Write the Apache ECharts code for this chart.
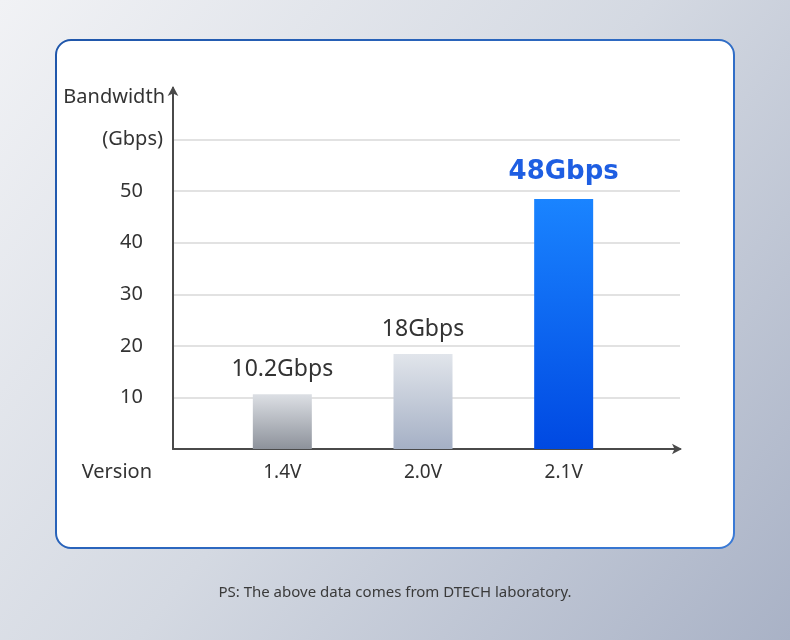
<!DOCTYPE html>
<html>
<head>
<meta charset="utf-8">
<script src="https://cdn.jsdelivr.net/npm/echarts@6/dist/echarts.min.js"></script>
<style>html,body{margin:0;padding:0;}#c{width:790px;height:640px;}</style>
</head>
<body>
<div id="c"></div>
<script>
// ---- data ----
const categories = ['1.4V', '2.0V', '2.1V'];
const bandwidthValues = [10.6, 18.4, 48.5];
const valueLabels = ['10.2Gbps', '18Gbps', '48Gbps'];
const yTicks = [0, 10, 20, 30, 40, 50, 60, 70];
const yUnitLabel = '(Gbps)';
const yAxisTitle = 'Bandwidth';
const xAxisTitle = 'Version';
const footnote = 'PS: The above data comes from DTECH laboratory.';

const G = echarts.graphic.LinearGradient;
const barFills = [
  new G(0, 0, 0, 1, [{offset: 0, color: '#dcdfe4'}, {offset: 1, color: '#8d929b'}]),
  new G(0, 0, 0, 1, [{offset: 0, color: '#e1e5eb'}, {offset: 1, color: '#a5b0c5'}]),
  new G(0, 0, 0, 1, [{offset: 0, color: '#1a84ff'}, {offset: 1, color: '#0049e2'}])
];
const labelStyles = [
  {color: '#333333', fontSize: 23, fontFamily: 'Noto Sans', distance: 13},
  {color: '#333333', fontSize: 23, fontFamily: 'Noto Sans', distance: 13},
  {color: '#1e5ee2', fontSize: 26, fontWeight: 'bold', fontFamily: 'DejaVu Sans', distance: 14}
];

const yMin = yTicks[0], yMax = yTicks[yTicks.length - 1];
const yStep = yTicks[1] - yTicks[0];

const chart = echarts.init(document.getElementById('c'), null, {renderer: 'canvas'});

const option = {
  animation: false,
  textStyle: {fontFamily: 'Noto Sans'},
  title: {
    text: footnote,
    left: 'center',
    top: 580,
    textStyle: {fontSize: 15, fontWeight: 'normal', color: '#3a3a3a', fontFamily: 'Noto Sans'}
  },
  graphic: {
    elements: [
      {
        type: 'rect', z: -100, silent: true,
        shape: {x: 0, y: 0, width: 790, height: 640},
        style: {fill: new G(0, 0, 1, 1, [
          {offset: 0, color: '#f1f2f5'},
          {offset: 0.5, color: '#d4d9e2'},
          {offset: 1, color: '#a9b2c6'}
        ])}
      },
      {
        type: 'rect', z: -99, silent: true,
        shape: {x: 56, y: 40, width: 678, height: 508, r: 15},
        style: {fill: '#ffffff', stroke: new G(0, 0, 1, 1, [
          {offset: 0, color: '#1f56aa'},
          {offset: 1, color: '#3a7ad6'}
        ]), lineWidth: 2}
      }
    ]
  },
  grid: [
    {left: 173, top: 88, width: 507, height: 361, containLabel: false},
    {left: 212, top: 88, width: 422, height: 361, containLabel: false}
  ],
  xAxis: [
    {
      gridIndex: 0, type: 'value', min: 0, max: 1,
      name: xAxisTitle, nameLocation: 'start', nameGap: 21,
      nameTextStyle: {fontSize: 20, color: '#333333', align: 'right', verticalAlign: 'top', padding: [13, 0, 0, 0]},
      axisLine: {show: true, symbol: ['none', 'arrow'], symbolSize: [8, 10], symbolOffset: [0, 2],
        lineStyle: {color: '#4a4a4a', width: 2}},
      axisTick: {show: false}, axisLabel: {show: false}, splitLine: {show: false}
    },
    {
      gridIndex: 1, type: 'category', data: categories,
      axisLine: {show: false}, axisTick: {show: false},
      axisLabel: {fontSize: 19, color: '#333333', margin: 14}
    }
  ],
  yAxis: [
    {
      gridIndex: 0, type: 'value', min: yMin, max: yMax, interval: yStep,
      name: yAxisTitle, nameLocation: 'end', nameGap: -9,
      nameTextStyle: {fontSize: 20, color: '#333333', align: 'right', verticalAlign: 'middle', padding: [0, 8, 0, 0]},
      axisLine: {show: true, symbol: ['none', 'arrow'], symbolSize: [8, 10], symbolOffset: [0, 2],
        lineStyle: {color: '#4a4a4a', width: 2}},
      axisTick: {show: false},
      axisLabel: {
        margin: 10,
        formatter: function (v) {
          if (v === yTicks[yTicks.length - 2]) return '{u|' + yUnitLabel + '}';
          if (v > yMin && v < yTicks[yTicks.length - 2]) return '{n|' + v + '}';
          return '';
        },
        rich: {
          u: {fontSize: 20, color: '#333333'},
          n: {fontSize: 20, color: '#333333', padding: [0, 20, 0, 0]}
        }
      },
      splitLine: {show: true, showMinLine: false, showMaxLine: false, lineStyle: {color: '#d9d9d9', width: 1.5}}
    },
    {
      gridIndex: 1, type: 'value', min: yMin, max: yMax, interval: yStep, show: false,
      splitLine: {show: false}
    }
  ],
  series: [{
    type: 'bar',
    xAxisIndex: 1, yAxisIndex: 1,
    barWidth: 59,
    data: bandwidthValues.map(function (v, i) {
      const ls = labelStyles[i];
      return {
        value: v,
        itemStyle: {color: barFills[i]},
        label: {
          show: true, position: 'top', distance: ls.distance,
          formatter: valueLabels[i],
          color: ls.color, fontSize: ls.fontSize, fontWeight: ls.fontWeight || 'normal',
          fontFamily: ls.fontFamily
        }
      };
    })
  }]
};
chart.setOption(option);
</script>
</body>
</html>
